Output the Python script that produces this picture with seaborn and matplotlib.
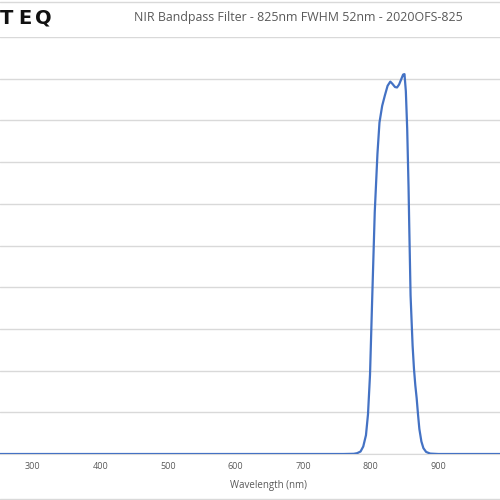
import matplotlib
matplotlib.use("Agg")
import matplotlib.pyplot as plt
import seaborn as sns
import pandas as pd

# transmission curve (wavelength nm, transmission %)
wavelength = [250, 300, 400, 500, 600, 700, 760, 775, 780, 785, 789, 793, 796, 799,
              802, 806, 810, 813, 817, 821, 825, 829, 832, 836, 839, 842, 845,
              848, 850, 852, 854, 856, 857, 859, 862, 864, 866, 868, 870, 872,
              875, 878, 882, 888, 900, 950, 1000]
transmission = [0, 0, 0, 0, 0, 0, 0, 0.05, 0.2, 0.6, 1.8, 4.5, 9.5, 19,
                36, 58, 72, 79.5, 83.5, 86, 88.3, 89.3, 88.8, 88.0, 87.9, 88.6, 89.8,
                91.0, 91.1, 87, 78, 64, 55, 38, 26, 20.5, 16.5, 13.4, 9.5, 6,
                3, 1.4, 0.5, 0.1, 0, 0, 0]
xticks = [300, 400, 500, 600, 700, 800, 900]
title = "NIR Bandpass Filter - 825nm FWHM 52nm - 2020OFS-825"

df = pd.DataFrame({"wl": wavelength, "t": transmission})

sns.set_style("white")
plt.rcParams['font.family'] = ['Open Sans', 'DejaVu Sans']

fig = plt.figure(figsize=(5, 5), dpi=100)
ax = fig.add_axes([0.0, 0.092, 1.0, 0.834])

sns.lineplot(data=df, x="wl", y="t", ax=ax, color="#4472c4", linewidth=1.6, zorder=3)

ax.set_xlim(251.6, 991.3)
ax.set_ylim(0, 100)
ax.set_yticks(range(0, 101, 10))
ax.set_yticklabels([])
ax.set_xticks(xticks)
ax.set_xticklabels([str(v) for v in xticks], color="#595959", fontsize=6.5)
ax.tick_params(axis="both", length=0, pad=6)
ax.yaxis.grid(True, color="#d9d9d9", linewidth=1)
ax.set_axisbelow(True)
for s in ["top", "left", "right"]:
    ax.spines[s].set_visible(False)
ax.spines["bottom"].set_color("#d9d9d9")
ax.set_ylabel("")
ax.set_xlabel("Wavelength (nm)", color="#595959", fontsize=7)
ax.xaxis.set_label_coords(0.536, -0.062)

fig.text(0.596, 0.964, title, ha="center", va="center", color="#595959", fontsize=8.9)

# cropped logo, letters spaced out like the original
for letter, xpos in zip("TEQ", [0.0, 0.036, 0.07]):
    fig.text(xpos, 0.964, letter, ha="left", va="center", color="#111111",
             fontsize=14, fontweight="bold", family="DejaVu Sans")

# thin border lines of the chart area
fig.add_artist(plt.Line2D([0, 1], [0.997, 0.997], color="#d9d9d9", linewidth=1))
fig.add_artist(plt.Line2D([0, 1], [0.002, 0.002], color="#d9d9d9", linewidth=1))

fig.savefig("out.png", dpi=100)
